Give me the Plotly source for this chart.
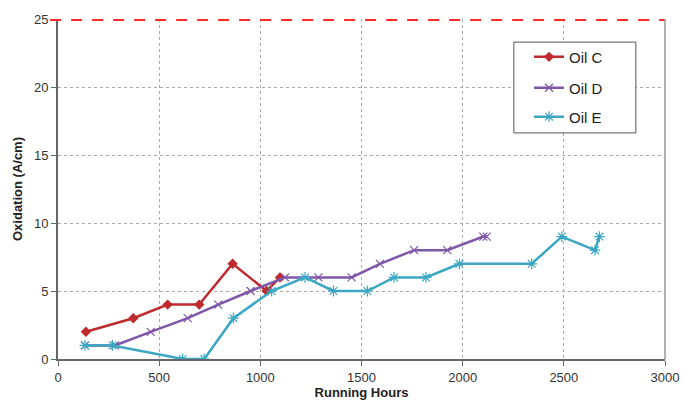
import plotly.graph_objects as go

oil_c_hours = [138, 372, 542, 698, 863, 1031, 1097]
oil_c_ox = [2, 3, 4, 4, 7, 5, 6]

oil_d_hours = [133, 282, 458, 641, 792, 952, 1122, 1287, 1451, 1591, 1760, 1924, 2102, 2119]
oil_d_ox = [1, 1, 2, 3, 4, 5, 6, 6, 6, 7, 8, 8, 9, 9]

oil_e_hours = [133, 270, 616, 723, 867, 1056, 1221, 1361, 1529, 1661, 1819, 1984, 2341, 2490, 2654, 2676]
oil_e_ox = [1, 1, 0, 0, 3, 5, 6, 5, 5, 6, 6, 7, 7, 9, 8, 9]

limit = 25

C_COL = "#BE2A2E"
D_COL = "#7E57A8"
E_COL = "#3BA7C2"

fig = go.Figure()
fig.add_trace(go.Scatter(x=oil_c_hours, y=oil_c_ox, name="Oil C", mode="lines+markers",
                         line=dict(color=C_COL, width=2.5), legend="legend",
                         marker=dict(symbol="diamond", size=8, color=C_COL)))
fig.add_trace(go.Scatter(x=oil_d_hours, y=oil_d_ox, name="Oil D", mode="lines+markers",
                         line=dict(color=D_COL, width=2.5), legend="legend2",
                         marker=dict(symbol="x-thin-open", size=8, color=D_COL,
                                     line=dict(color=D_COL, width=1.2))))
fig.add_trace(go.Scatter(x=oil_e_hours, y=oil_e_ox, name="Oil E", mode="lines+markers",
                         line=dict(color=E_COL, width=2.5), legend="legend3",
                         marker=dict(symbol="asterisk-open", size=9, color=E_COL,
                                     line=dict(color=E_COL, width=1.2))))

fig.add_shape(type="line", xref="paper", yref="y", x0=-0.013, x1=1, y0=limit, y1=limit,
              line=dict(color="#FF2A2A", width=4, dash="11px,10px"), layer="above")
fig.add_shape(type="line", xref="paper", yref="paper", x0=1, x1=1, y0=0, y1=1,
              line=dict(color="#999999", width=1.5))
# legend box
fig.add_shape(type="rect", xref="paper", yref="paper", x0=0.751, x1=0.952, y0=0.665, y1=0.932,
              line=dict(color="#555555", width=1), fillcolor="white", layer="above")

leg_common = dict(x=0.776, xanchor="left", yanchor="middle", bgcolor="rgba(0,0,0,0)",
                  borderwidth=0, font=dict(size=15, color="#222222"))

fig.update_layout(
    width=686, height=396,
    margin=dict(l=50, r=29, t=11, b=45, autoexpand=False),
    paper_bgcolor="white", plot_bgcolor="white",
    font=dict(family="Liberation Sans, Arial, sans-serif", size=13, color="#333333"),
    showlegend=True,
    legend=dict(y=0.888, **leg_common),
    legend2=dict(y=0.797, **leg_common),
    legend3=dict(y=0.712, **leg_common),
    xaxis=dict(range=[0, 3000], tickvals=[0, 500, 1000, 1500, 2000, 2500, 3000],
               showgrid=True, gridcolor="#AAAAAA", griddash="dot", gridwidth=1,
               showline=True, linecolor="#666666", linewidth=2, mirror=False,
               ticks="outside", ticklen=5, tickcolor="#666666", zeroline=False, automargin=False,
               title=dict(text="<b>Running Hours</b>", font=dict(size=13, color="#222222"), standoff=2)),
    yaxis=dict(range=[0, 25], tickvals=[0, 5, 10, 15, 20, 25],
               showgrid=True, gridcolor="#AAAAAA", griddash="dot", gridwidth=1,
               showline=True, linecolor="#666666", linewidth=2,
               ticks="outside", ticklen=5, tickcolor="#666666", zeroline=False, automargin=False,
               title=dict(text="<b>Oxidation (A/cm)</b>", font=dict(size=13, color="#222222"), standoff=8)),
)

fig.write_html("out.html")
